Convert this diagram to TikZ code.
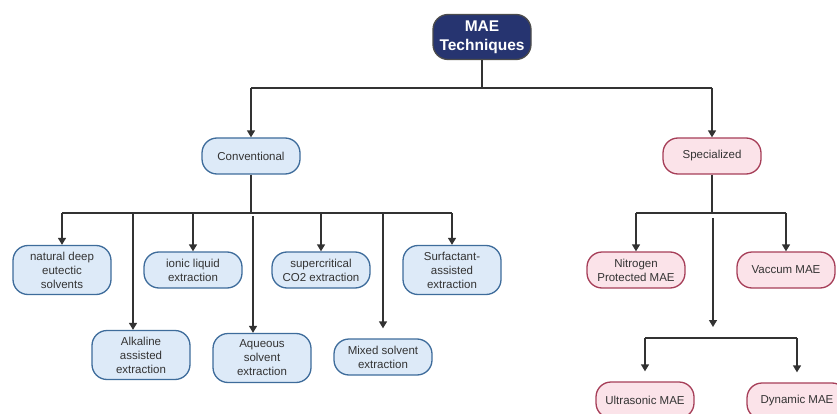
\documentclass[tikz,border=0pt]{standalone}
\usepackage{fontspec}
\setmainfont{Liberation Sans}
\usetikzlibrary{arrows.meta}
\definecolor{rootfill}{RGB}{38,52,112}
\definecolor{convfill}{RGB}{221,234,248}
\definecolor{convline}{RGB}{62,108,155}
\definecolor{specfill}{RGB}{251,227,233}
\definecolor{specline}{RGB}{166,62,88}
\definecolor{linkgray}{RGB}{50,50,50}
\begin{document}
\begin{tikzpicture}[x=1pt, y=-1pt,
  box/.style={draw, rounded corners=15pt, line width=1.3pt, minimum width=98pt,
    minimum height=36pt, inner sep=1pt, align=center, text=black!80,
    font=\fontsize{11.5}{14}\selectfont},
  convbox/.style={box, fill=convfill, draw=convline},
  specbox/.style={box, fill=specfill, draw=specline},
  link/.style={line width=1.4pt, draw=linkgray},
  arrow/.style={link, -{Triangle[width=8pt,length=7pt]}}]
\useasboundingbox (0,0) rectangle (837,414);
% draw top node
	\node[box, fill=rootfill, draw=black!70, text=white, minimum height=45pt,
	  font=\fontsize{15.5}{19}\selectfont\bfseries] (root) at (482,37) {MAE\\Techniques};
% draw branch nodes
	\node[convbox] (conv) at (251,156) {Conventional};
	\node[specbox] (spec) at (712,156) {Specialized};
% draw conventional techniques
	\node[convbox, minimum height=49pt] (nades) at (62,270) {natural deep\\eutectic\\solvents};
	\node[convbox] (ionic) at (193,270) {ionic liquid\\extraction};
	\node[convbox] (scco) at (321,270) {supercritical\\CO2 extraction};
	\node[convbox, minimum height=49pt] (surf) at (452,270) {Surfactant-\\assisted\\extraction};
	\node[convbox, minimum height=49pt] (alk) at (141,355) {Alkaline\\assisted\\extraction};
	\node[convbox, minimum height=49pt] (aq) at (262,358) {Aqueous\\solvent\\extraction};
	\node[convbox] (mix) at (383,357) {Mixed solvent\\extraction};
% draw specialized techniques
	\node[specbox] (nitro) at (636,270) {Nitrogen\\Protected MAE};
	\node[specbox] (vac) at (786,270) {Vaccum MAE};
	\node[specbox] (ultra) at (645,400) {Ultrasonic MAE};
	\node[specbox, minimum width=100pt] (dyn) at (797,401) {Dynamic MAE};
% draw connectors from top node
	\coordinate (topbus) at (482,88);
	\draw[link] (root) -- (topbus);
	\draw[link] (topbus -| conv) -- (topbus -| spec);
	\draw[arrow] (topbus -| conv) -- (conv);
	\draw[arrow] (topbus -| spec) -- (spec);
% draw connectors of conventional
	\coordinate (cbus) at (251,213);
	\draw[link] (conv) -- (cbus);
	\draw[link] (cbus -| nades) -- (cbus -| surf);
	\foreach \n in {nades, ionic, scco, surf}
		\draw[arrow] (cbus -| \n) -- (\n);
	\draw[arrow] ([xshift=-8pt]alk.north |- cbus) -- ([xshift=-8pt]alk.north);
	\draw[arrow] ([xshift=-9pt,yshift=-3pt]aq.north |- cbus) -- ([xshift=-9pt]aq.north);
	\draw[arrow, shorten >=10pt] (cbus -| mix) -- (mix);
% draw connectors of specialized
	\coordinate (sbus) at (712,213);
	\coordinate (mid) at (713,327);
	\coordinate (lbus) at (713,338);
	\draw[link] (spec) -- (sbus);
	\draw[link] (sbus -| nitro) -- (sbus -| vac);
	\draw[arrow] (sbus -| nitro) -- (nitro);
	\draw[arrow] (sbus -| vac) -- (vac);
	\draw[arrow] ([yshift=-5pt]sbus -| mid) -- (mid);
	\draw[link] (lbus -| ultra) -- (lbus -| dyn);
	\draw[arrow, shorten >=10pt] (lbus -| ultra) -- (ultra);
	\draw[arrow, shorten >=10pt] (lbus -| dyn) -- (dyn);
\end{tikzpicture}
\end{document}
